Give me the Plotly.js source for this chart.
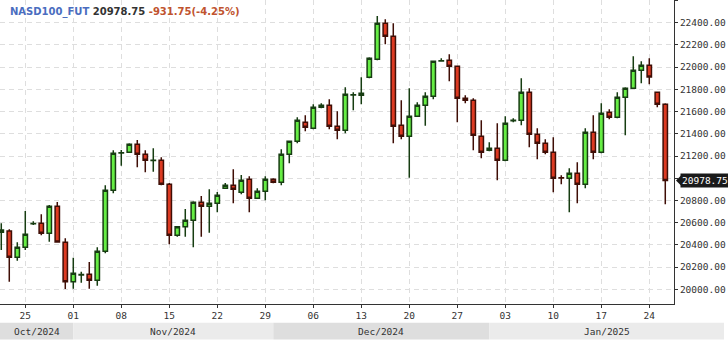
<!DOCTYPE html>
<html>
<head>
<meta charset="utf-8">
<script src="https://cdn.plot.ly/plotly-3.0.1.min.js"></script>
<style>html,body{margin:0;padding:0;background:#fff;}#chart{width:728px;height:341px;}</style>
</head>
<body>
<div id="chart"></div>
<script>
const symbol = "NASD100_FUT";
const dates = [
"2024-10-22","2024-10-23","2024-10-24","2024-10-25",
"2024-10-27","2024-10-28","2024-10-29","2024-10-30","2024-10-31","2024-11-01",
"2024-11-03","2024-11-04","2024-11-05","2024-11-06","2024-11-07","2024-11-08",
"2024-11-10","2024-11-11","2024-11-12","2024-11-13","2024-11-14","2024-11-15",
"2024-11-17","2024-11-18","2024-11-19","2024-11-20","2024-11-21","2024-11-22",
"2024-11-24","2024-11-25","2024-11-26","2024-11-27","2024-11-28","2024-11-29",
"2024-12-01","2024-12-02","2024-12-03","2024-12-04","2024-12-05","2024-12-06",
"2024-12-08","2024-12-09","2024-12-10","2024-12-11","2024-12-12","2024-12-13",
"2024-12-15","2024-12-16","2024-12-17","2024-12-18","2024-12-19","2024-12-20",
"2024-12-22","2024-12-23","2024-12-24","2024-12-25","2024-12-26","2024-12-27",
"2024-12-29","2024-12-30","2024-12-31","2025-01-01","2025-01-02","2025-01-03",
"2025-01-05","2025-01-06","2025-01-07","2025-01-08","2025-01-09","2025-01-10",
"2025-01-12","2025-01-13","2025-01-14","2025-01-15","2025-01-16","2025-01-17",
"2025-01-19","2025-01-20","2025-01-21","2025-01-22","2025-01-23","2025-01-24",
"2025-01-26","2025-01-27"];
const open = [
20513,20525,20288,20378,
20590,20594,20504,20747,20423,20069,
20130,20135,20081,20342,20891,21226,
21233,21305,21215,21160,21161,20945,
20486,20564,20621,20783,20747,20774,
20909,20936,20873,20990,20819,20882,
20990,20963,21215,21332,21503,21449,
21638,21656,21467,21431,21749,21746,
21908,22070,22394,22277,21476,21377,
21557,21656,21737,22055,22061,22007,
21719,21701,21377,21251,21269,21161,
21518,21521,21773,21395,21314,21233,
21005,20999,21044,20945,21413,21233,
21593,21548,21728,21809,21971,22016,
21773,21665];
const high = [
20594,20540,20423,20705,
20612,20675,20759,20786,20459,20285,
20159,20246,20378,20936,21251,21254,
21314,21344,21251,21269,21188,20957,
20568,20723,20792,20840,20900,20876,
20957,21080,21029,21017,20909,21017,
20999,21260,21335,21548,21566,21665,
21674,21710,21602,21818,21773,21908,
22088,22460,22430,22394,21701,21809,
21683,21773,22055,22079,22115,22009,
21746,21719,21521,21323,21494,21557,
21539,21899,21809,21449,21350,21368,
21026,21089,21143,21449,21566,21674,
21620,21773,21818,22097,22052,22079,
21775,21674];
const low = [
20354,20069,20258,20354,
20579,20486,20429,20420,20003,20006,
20060,20006,20033,20324,20864,21113,
21230,21098,21053,21059,20936,20405,
20474,20474,20378,20474,20510,20693,
20905,20774,20855,20693,20815,20801,
20954,20936,21134,21314,21422,21440,
21629,21440,21350,21404,21611,21665,
21899,22061,22205,21314,21350,21005,
21555,21473,21710,22050,21872,21503,
21674,21251,21179,21242,20981,21152,
21503,21476,21278,21170,21215,20873,
20945,20693,20774,20909,21170,21224,
21530,21539,21386,21805,21854,21845,
21638,20765];
const close = [
20534,20288,20378,20495,
20592,20504,20747,20425,20069,20144,
20134,20081,20342,20891,21224,21229,
21305,21215,21161,21162,20945,20486,
20564,20621,20783,20747,20774,20846,
20936,20900,20981,20819,20882,20990,
20963,21215,21332,21521,21458,21638,
21656,21467,21431,21755,21752,21764,
22079,22394,22277,21467,21377,21557,
21656,21737,22052,22058,22007,21719,
21701,21386,21233,21269,21161,21494,
21521,21773,21395,21314,21233,20999,
21002,21044,20945,21413,21233,21584,
21548,21728,21809,21971,22016,21910.5,
21665,20978.75];
const tickDates = ["2024-10-25","2024-11-01","2024-11-08","2024-11-15","2024-11-22","2024-11-29","2024-12-06","2024-12-13","2024-12-20","2024-12-27","2025-01-03","2025-01-10","2025-01-17","2025-01-24"];
const tickLabels = ["25","01","08","15","22","29","06","13","20","27","03","10","17","24"];
const months = ["2024-10","2024-11","2024-12","2025-01"];
const monthLabels = ["Oct/2024","Nov/2024","Dec/2024","Jan/2025"];
const prevClose = 21910.5;

const xr = [-0.16, 84.09];
const yr = [19868, 22604];
const yStep = 200;
const mono = "DejaVu Sans Mono";
const last = close[close.length-1];
const chg = last - prevClose;
const pct = chg / prevClose * 100;

function px(i){ return (i - xr[0]) / (xr[1] - xr[0]); }

// y ticks: the one hidden behind the last-price marker gets no label
const yTickVals = [], yTickText = [];
const unitsPerPx = (yr[1]-yr[0]) / 304;
for (let v = Math.ceil(yr[0]/yStep)*yStep; v <= yr[1]; v += yStep) {
  yTickVals.push(v);
  yTickText.push(Math.abs(v - last) < 8*unitsPerPx ? '' : v.toFixed(2));
}

const shapes = [];
const annotations = [];
const bandY0 = -(322.7-304)/304, bandY1 = -(339.5-304)/304;
const bandEnd = 724/674;
months.forEach((m, k) => {
  const i0 = dates.findIndex(d => d.startsWith(m));
  const x0 = k === 0 ? 0 : px(i0);
  let x1;
  if (k < months.length - 1) {
    x1 = px(dates.findIndex(d => d.startsWith(months[k+1])));
  } else x1 = bandEnd;
  shapes.push({type:'rect', xref:'paper', yref:'paper', x0:x0, x1:x1, y0:bandY1, y1:bandY0,
    fillcolor: k % 2 === 0 ? '#dedede' : '#ebebeb', line:{width:0}, layer:'below'});
  annotations.push({xref:'paper', yref:'paper', x:(x0+x1)/2, y:(bandY0+bandY1)/2, yanchor:'middle',
    xanchor:'center', text: monthLabels[k], showarrow:false, font:{family:mono, size:9.5, color:'#333'}});
});

// last price marker
const dy = unitsPerPx * 5;
shapes.push({type:'path', xref:'paper', yref:'y',
  path: `M ${676/674} ${last} L ${681/674} ${last+dy} L ${681/674} ${last-dy} Z`,
  fillcolor:'#1a1a1a', line:{width:0}});
annotations.push({xref:'paper', yref:'y', x:680/674, y:last, xanchor:'left', yanchor:'middle',
  text: last.toFixed(2), showarrow:false, bgcolor:'#1a1a1a', borderpad:1,
  font:{family:mono, size:9.5, color:'#ffffff'}});

// header
annotations.push({xref:'paper', yref:'paper', x:8/674, y:1, xanchor:'left', yanchor:'top', yshift:-4,
  showarrow:false,
  text: `<span style="color:#4a6dbf">${symbol}</span> <span style="color:#333333">${last.toFixed(2)}</span> <span style="color:#c0532e">${chg.toFixed(2)}(${pct.toFixed(2)}%)</span>`,
  font:{family:'DejaVu Sans', size:10, weight:'bold', color:'#333'}});

const trace = {
  type:'candlestick', x:dates, open:open, high:high, low:low, close:close,
  increasing:{fillcolor:'#66ee44', line:{color:'#173d12', width:1.5}},
  decreasing:{fillcolor:'#dd3a22', line:{color:'#3f0e06', width:1.5}},
  showlegend:false, hoverinfo:'skip'
};

const layout = {
  width:728, height:341,
  margin:{l:0, r:54, t:0, b:37, pad:0},
  paper_bgcolor:'#ffffff', plot_bgcolor:'#ffffff',
  showlegend:false,
  boxgap:0.22,
  xaxis:{type:'category', range:xr, tickmode:'array', tickvals:tickDates, ticktext:tickLabels,
    showgrid:true, gridcolor:'#dedede', griddash:'5px,4px', gridwidth:1,
    showline:true, linecolor:'#333', linewidth:1, mirror:true,
    ticks:'outside', ticklen:3, tickcolor:'#333',
    tickfont:{family:mono, size:9.5, color:'#333'},
    rangeslider:{visible:false}, fixedrange:true},
  yaxis:{side:'right', range:yr, tickmode:'array', tickvals:yTickVals, ticktext:yTickText,
    showgrid:true, gridcolor:'#dedede', griddash:'5px,4px', gridwidth:1,
    showline:true, linecolor:'#333', linewidth:1, zeroline:false,
    ticks:'outside', ticklen:3, tickcolor:'#333',
    tickfont:{family:mono, size:9.5, color:'#333'}, fixedrange:true},
  shapes:shapes, annotations:annotations
};

Plotly.newPlot('chart', [trace], layout, {displayModeBar:false, staticPlot:true});
</script>
</body>
</html>
